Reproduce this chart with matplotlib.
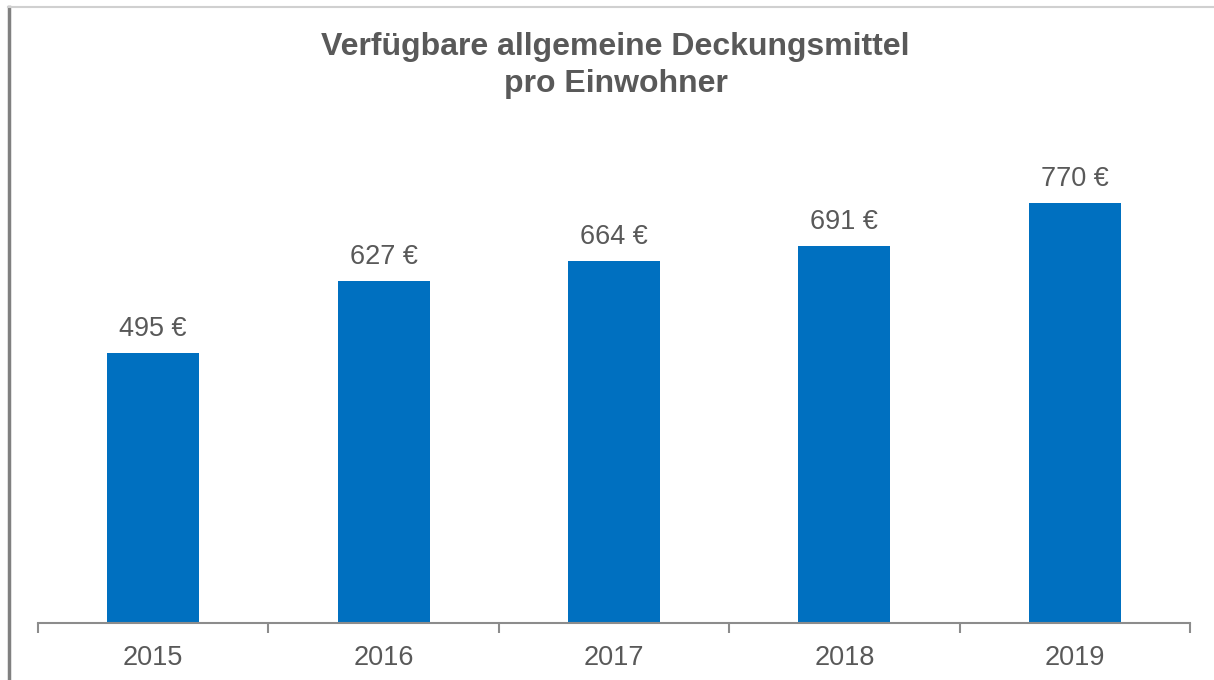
import matplotlib.pyplot as plt
from matplotlib.lines import Line2D

years = ['2015', '2016', '2017', '2018', '2019']
values = [495, 627, 664, 691, 770]

plt.rcParams['font.family'] = ['Liberation Sans', 'DejaVu Sans']
grey = '#595959'

fig = plt.figure(figsize=(12.14, 6.8), dpi=100)
# axes: left 38px, right 1190px, baseline at y=623px
ax = fig.add_axes([38 / 1214, 57 / 680, 1152 / 1214, 491 / 680])

x = range(len(years))
bars = ax.bar(x, values, width=0.4, color='#0070C0')
for b, v in zip(bars, values):
    ax.annotate(f'{v} €', (b.get_x() + b.get_width() / 2, v), xytext=(0, 8),
                textcoords='offset points', ha='center', va='bottom',
                fontsize=19.5, color=grey)

ax.set_xlim(-0.5, len(years) - 0.5)
ax.set_ylim(0, 900)
ax.set_yticks([])
for s in ['top', 'right', 'left']:
    ax.spines[s].set_visible(False)
ax.spines['bottom'].set_color('#8c8c8c')
ax.spines['bottom'].set_linewidth(1.5)

# category separators as ticks, labels in between
ax.set_xticks([i - 0.5 for i in range(len(years) + 1)])
ax.set_xticklabels([])
ax.tick_params(axis='x', length=7, width=1.5, color='#8c8c8c')
for i, y in enumerate(years):
    ax.annotate(y, (i, 0), xytext=(0, -16), textcoords='offset points',
                ha='center', va='top', fontsize=19.5, color=grey)

fig.text(0.507, 0.953, 'Verfügbare allgemeine Deckungsmittel\npro Einwohner',
         ha='center', va='top', fontsize=23, fontweight='bold', color=grey,
         linespacing=1.32)

# outer frame lines
fig.add_artist(Line2D([9 / 1214, 9 / 1214], [0, 673 / 680], color='#808080', lw=2.5))
fig.add_artist(Line2D([8 / 1214, 1], [673 / 680, 673 / 680], color='#d0d0d0', lw=1.5))

fig.savefig('out.png', dpi=100)
